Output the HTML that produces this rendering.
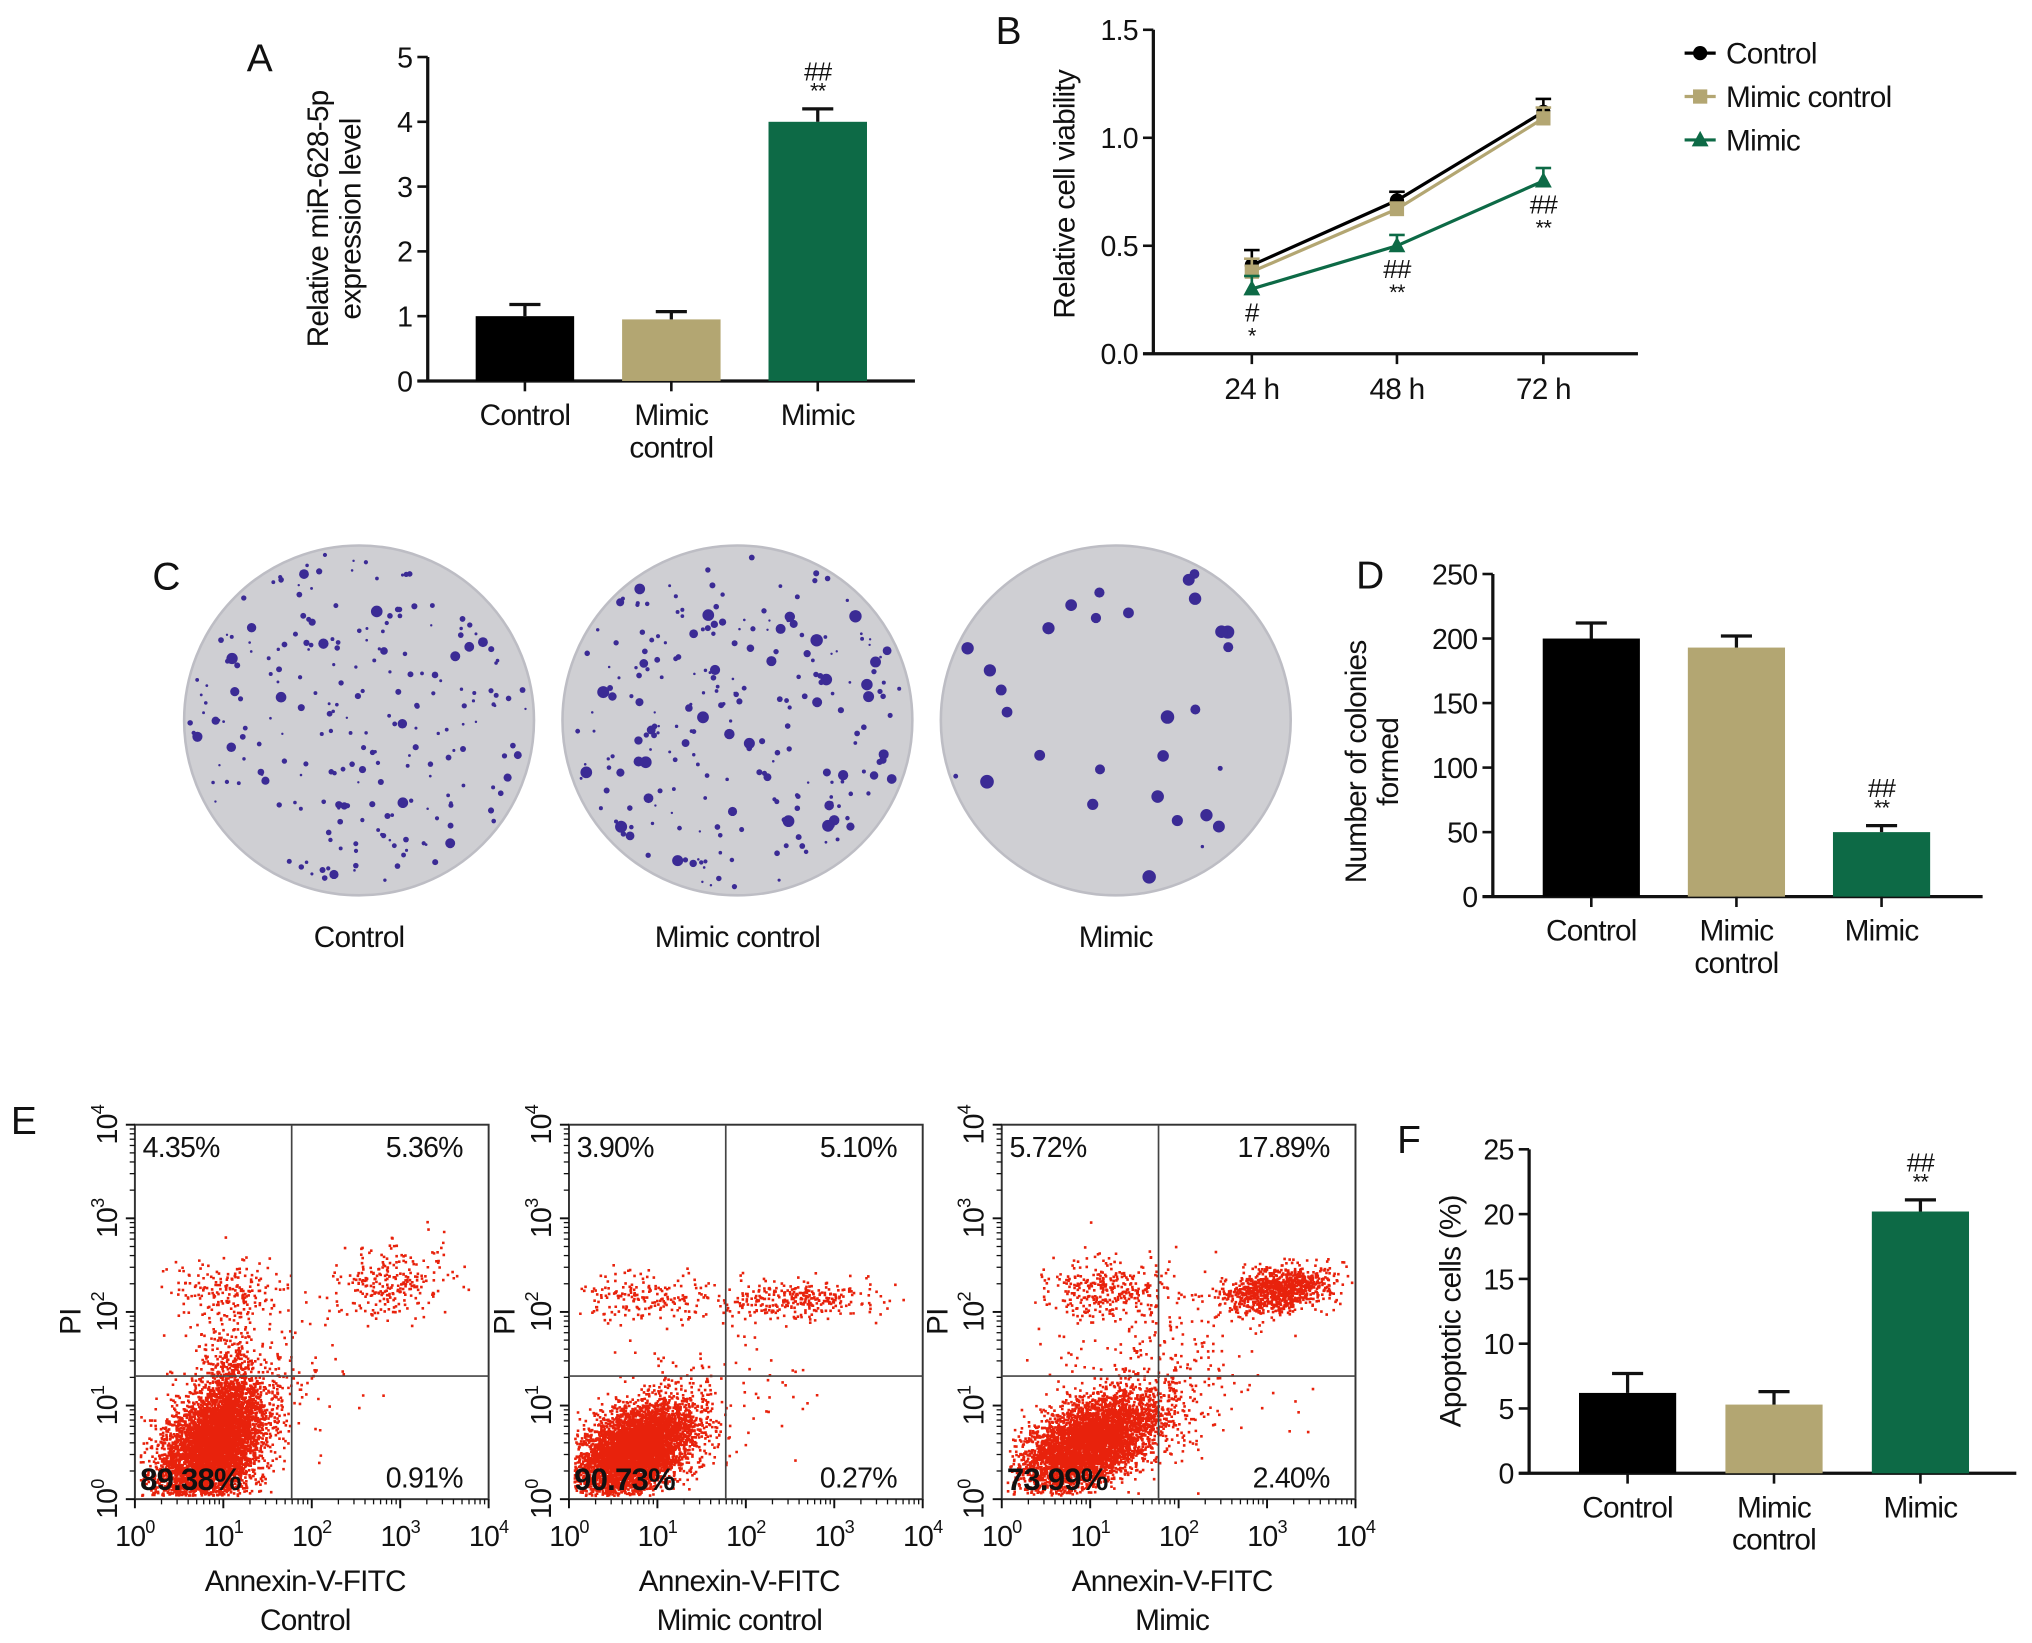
<!DOCTYPE html>
<html><head><meta charset="utf-8">
<style>
html,body{margin:0;padding:0;background:#fff;}
svg{display:block;font-family:"Liberation Sans",Arial,sans-serif;}
text{letter-spacing:-0.6px;}
</style></head>
<body>
<svg id="fig" width="2032" height="1643" viewBox="0 0 1568 1268" xmlns="http://www.w3.org/2000/svg">
</svg>
<script>
// ---- Data ----
const groups = ["Control", "Mimic control", "Mimic"];
const colors = ["#000000", "#b3a672", "#0d6a46"];
const aValues = [1.0, 0.95, 4.0];
const aErrors = [0.18, 0.12, 0.2];
const aTicks = [0, 1, 2, 3, 4, 5];
const bTimes = ["24 h", "48 h", "72 h"];
const bControl = [0.41, 0.71, 1.12];
const bMimicControl = [0.38, 0.67, 1.09];
const bMimic = [0.30, 0.50, 0.80];
const bErrControl = [0.07, 0.04, 0.06];
const bErrMimicControl = [0.06, 0.03, 0.05];
const bErrMimic = [0.06, 0.05, 0.06];
const bTicks = [0.0, 0.5, 1.0, 1.5];
const dValues = [200, 193, 50];
const dErrors = [12, 9, 5];
const dTicks = [0, 50, 100, 150, 200, 250];
const fValues = [6.2, 5.3, 20.2];
const fErrors = [1.5, 1.0, 0.9];
const fTicks = [0, 5, 10, 15, 20, 25];
const flowUL = ["4.35%", "3.90%", "5.72%"];
const flowUR = ["5.36%", "5.10%", "17.89%"];
const flowLL = ["89.38%", "90.73%", "73.99%"];
const flowLR = ["0.91%", "0.27%", "2.40%"];

const NS = "http://www.w3.org/2000/svg";
const svg = document.getElementById("fig");
function el(tag, attrs, parent, txt) {
  const e = document.createElementNS(NS, tag);
  for (const k in attrs) e.setAttribute(k, attrs[k]);
  if (txt !== undefined) e.textContent = txt;
  (parent || svg).appendChild(e);
  return e;
}
function group(name, parent) {
  const g = el("g", {}, parent);
  
  
  return g;
}
function txt(parent, x, y, s, size, anchor, name, extra) {
  const t = el("text", Object.assign({x: x, y: y, "font-size": size, "text-anchor": anchor || "middle", fill: "#111"}, extra || {}), parent, s);
  
  
  return t;
}
function line(parent, x1, y1, x2, y2, w, c) {
  return el("line", {x1: x1, y1: y1, x2: x2, y2: y2, stroke: c || "#111", "stroke-width": w || 2}, parent);
}

// ---- Bar chart helper ----
function barChart(cfg) {
  const g = group(cfg.name);
  const yS = v => cfg.y0 - (v - cfg.vmin) / (cfg.vmax - cfg.vmin) * (cfg.y0 - cfg.y1);
  line(g, cfg.x0, cfg.y1, cfg.x0, cfg.y0 + 1, 2.5);
  line(g, cfg.x0 - 8, cfg.y0, cfg.xEnd, cfg.y0, 2.5);
  cfg.ticks.forEach(t => {
    line(g, cfg.x0 - 8, yS(t), cfg.x0, yS(t), 2);
    txt(g, cfg.x0 - 12, yS(t) + 8, String(t), 22, "end", "y-tick-label");
  });
  cfg.values.forEach((v, i) => {
    const cx = cfg.centers[i];
    const b = el("rect", {x: cx - cfg.bw / 2, y: yS(v), width: cfg.bw, height: cfg.y0 - yS(v), fill: colors[i]}, g);
    
    
    const top = yS(v + cfg.errors[i]);
    line(g, cx, yS(v), cx, top, 2.5);
    line(g, cx - 12, top, cx + 12, top, 2.5);
    line(g, cx, cfg.y0, cx, cfg.y0 + 8, 2);
    const parts = groups[i].split(" ");
    txt(g, cx, cfg.y0 + 34, parts[0], 23, "middle", "x-category-label");
    if (parts[1]) txt(g, cx, cfg.y0 + 59, parts[1], 23, "middle", "x-category-label");
  });
  if (cfg.sig !== undefined) {
    const cx = cfg.centers[cfg.sig];
    const top = yS(cfg.values[cfg.sig] + cfg.errors[cfg.sig]);
    txt(g, cx, top - 8, "**", 17, "middle", "significance-stars");
    txt(g, cx, top - 22, "##", 20, "middle", "significance-hash");
  }
  const yl = cfg.ylabel;
  yl.lines.forEach((s, k) => {
    txt(g, 0, 0, s, 23, "middle", "y-axis-title", {transform: `translate(${yl.x + k * 25},${yl.y}) rotate(-90)`});
  });
  return g;
}

// Panel A
txt(svg, 200, 55, "A", 30, "middle", "panel-label-a");
barChart({name: "panel-a-chart", x0: 330, y0: 294, y1: 44, vmin: 0, vmax: 5, xEnd: 706,
  ticks: aTicks, values: aValues, errors: aErrors, centers: [405, 518, 631], bw: 76, sig: 2,
  ylabel: {x: 253, y: 169, lines: ["Relative miR-628-5p", "expression level"]}});

// Panel B
(function () {
  const g = group("panel-b-chart");
  txt(svg, 778, 34, "B", 30, "middle", "panel-label-b");
  const x0 = 890, y0 = 273, y1 = 23;
  const yS = v => y0 - v / 1.5 * (y0 - y1);
  const xs = [966, 1078, 1191];
  line(g, x0, y1, x0, y0 + 1, 2.5);
  line(g, x0 - 8, y0, 1264, y0, 2.5);
  bTicks.forEach(t => {
    line(g, x0 - 8, yS(t), x0, yS(t), 2);
    txt(g, x0 - 12, yS(t) + 8, t.toFixed(1), 22, "end", "y-tick-label");
  });
  bTimes.forEach((s, i) => {
    line(g, xs[i], y0, xs[i], y0 + 8, 2);
    txt(g, xs[i], y0 + 35, s, 23, "middle", "x-tick-label");
  });
  txt(g, 0, 0, "Relative cell viability", 23, "middle", "y-axis-title", {transform: `translate(829,150) rotate(-90)`});
  const series = [
    {name: "Control", vals: bControl, err: bErrControl, c: colors[0], m: "circle"},
    {name: "Mimic control", vals: bMimicControl, err: bErrMimicControl, c: colors[1], m: "square"},
    {name: "Mimic", vals: bMimic, err: bErrMimic, c: colors[2], m: "tri"}];
  function marker(p, m, x, y, c) {
    if (m === "circle") return el("circle", {cx: x, cy: y, r: 5.5, fill: c}, p);
    if (m === "square") return el("rect", {x: x - 5.5, y: y - 5.5, width: 11, height: 11, fill: c}, p);
    return el("polygon", {points: `${x},${y - 7} ${x - 6.5},${y + 5} ${x + 6.5},${y + 5}`, fill: c}, p);
  }
  series.forEach((s, k) => {
    const sg = group("series-" + s.name.toLowerCase().replace(' ', '-'), g);
    s.vals.forEach((v, i) => {
      const t = yS(v + s.err[i]);
      line(sg, xs[i], yS(v), xs[i], t, 2, s.c);
      line(sg, xs[i] - 6, t, xs[i] + 6, t, 2, s.c);
    });
    el("polyline", {points: s.vals.map((v, i) => xs[i] + "," + yS(v)).join(" "), fill: "none", stroke: s.c, "stroke-width": 2.5}, sg);
    s.vals.forEach((v, i) => {
      const m = marker(sg, s.m, xs[i], yS(v), s.c);
      
      
    });
    const ly = 41 + k * 33.5;
    const lg = group("legend-entry", g);
    line(lg, 1300, ly, 1324, ly, 2.5, s.c);
    marker(lg, s.m, 1312, ly, s.c);
    txt(lg, 1332, ly + 8, s.name, 23, "start", "legend-label");
  });
  const sigs = ["#", "##", "##"], stars = ["*", "**", "**"];
  xs.forEach((x, i) => {
    const base = yS(bMimic[i]);
    txt(g, x, base + 25, sigs[i], 20, "middle", "significance-hash");
    txt(g, x, base + 42, stars[i], 17, "middle", "significance-stars");
  });
})();

// Panel C: colony plates
(function () {
  txt(svg, 128, 455, "C", 30, "middle", "panel-label-c");
  let seed = 12345;
  const rnd = () => { seed = (seed * 1103515245 + 12345) % 2147483648; return seed / 2147483648; };
  const plates = [{cx: 277, n: 230, big: 0.12, bs: 2.5}, {cx: 569, n: 240, big: 0.2, bs: 2.8}, {cx: 861, n: 30, big: 0.8, bs: 3.5}];
  plates.forEach((p, i) => {
    const g = group("colony-plate-" + groups[i].toLowerCase().replace(' ', '-'));
    el("circle", {cx: p.cx, cy: 556, r: 135, fill: "#cfcfd3"}, g);
    el("circle", {cx: p.cx, cy: 556, r: 135, fill: "none", stroke: "#bdbdc4", "stroke-width": 2}, g);
    for (let k = 0; k < p.n; k++) {
      const a = rnd() * Math.PI * 2, r = Math.sqrt(rnd()) * 131;
      const rr = rnd() < p.big ? p.bs + rnd() * 2 : 0.9 + rnd() * 1.5;
      el("circle", {cx: p.cx + Math.cos(a) * r, cy: 556 + Math.sin(a) * r, r: rr, fill: "#3b2b95"}, g);
    }
    txt(g, p.cx, 731, groups[i], 23, "middle", "plate-label");
  });
})();

// Panel D
txt(svg, 1057, 454, "D", 30, "middle", "panel-label-d");
barChart({name: "panel-d-chart", x0: 1152, y0: 692, y1: 443, vmin: 0, vmax: 250, xEnd: 1530,
  ticks: dTicks, values: dValues, errors: dErrors, centers: [1228, 1340, 1452], bw: 75, sig: 2,
  ylabel: {x: 1054, y: 588, lines: ["Number of colonies", "formed"]}});

// Panel F
txt(svg, 1087, 890, "F", 30, "middle", "panel-label-f");
barChart({name: "panel-f-chart", x0: 1180, y0: 1137, y1: 887, vmin: 0, vmax: 25, xEnd: 1556,
  ticks: fTicks, values: fValues, errors: fErrors, centers: [1256, 1369, 1482], bw: 75, sig: 2,
  ylabel: {x: 1127, y: 1012, lines: ["Apoptotic cells (%)"]}});

// Panel E: flow cytometry
(function () {
  txt(svg, 18, 875, "E", 30, "middle", "panel-label-e");
  let seed = 987;
  const rnd = () => { seed = (seed * 1103515245 + 12345) % 2147483648; return seed / 2147483648; };
  const gauss = () => { let u = rnd() || 1e-6, v = rnd(); return Math.sqrt(-2 * Math.log(u)) * Math.cos(2 * Math.PI * v); };
  const lefts = [104, 439, 773];
  const W = 273, top = 868, bottom = 1157;
  const dx = W / 4, dy = (bottom - top) / 4;
  const quad = 121;
  // [mx, my, sx, sy, n, slope]
  const clusters = [
    [[0.85, 0.55, 0.3, 0.3, 5000, 0.5], [1.05, 1.0, 0.15, 0.4, 700, 0], [1.1, 2.23, 0.35, 0.15, 180, 0], [2.9, 2.35, 0.3, 0.2, 260, 0.2], [1.4, 1.3, 0.5, 0.5, 160, 0]],
    [[0.75, 0.55, 0.32, 0.22, 5000, 0.35], [0.8, 2.15, 0.4, 0.12, 200, 0], [2.5, 2.15, 0.45, 0.1, 320, 0], [1.5, 1.1, 0.6, 0.5, 100, 0]],
    [[1.0, 0.62, 0.38, 0.22, 4500, 0.35], [1.2, 2.25, 0.35, 0.15, 320, 0], [3.1, 2.25, 0.3, 0.11, 1000, 0.1], [1.8, 1.4, 0.6, 0.5, 300, 0]]];
  lefts.forEach((L, p) => {
    const g = group("flow-plot-" + groups[p].toLowerCase().replace(' ', '-'));
    const pts = group("scatter-points", g);
    let d = "";
    clusters[p].forEach(c => {
      for (let k = 0; k < c[4]; k++) {
        const gx = gauss();
        const lx = c[0] + gx * c[2], ly = c[1] + gauss() * c[3] + gx * c[2] * c[5];
        if (lx < 0.05 || lx > 3.95 || ly < 0.05 || ly > 3.95) continue;
        const x = L + lx * dx, y = bottom - ly * dy;
        d += `M${x.toFixed(1)} ${y.toFixed(1)}h2v2h-2z`;
      }
    });
    el("path", {d: d, fill: "#e8220c"}, pts);
    el("rect", {x: L, y: top, width: W, height: bottom - top, fill: "none", stroke: "#333", "stroke-width": 1.5}, g);
    line(g, L + quad, top, L + quad, bottom, 1.3, "#444");
    line(g, L, 1062, L + W, 1062, 1.3, "#444");
    for (let k = 0; k <= 4; k++) {
      line(g, L + k * dx, bottom, L + k * dx, bottom + 7, 1.5);
      line(g, L - 7, bottom - k * dy, L, bottom - k * dy, 1.5);
      const tx = txt(g, L + k * dx, bottom + 36, "10", 22, "middle", "x-tick-label");
      el("tspan", {dy: -10, "font-size": 14}, tx, String(k));
      const ty = txt(g, 0, 0, "10", 22, "middle", "y-tick-label", {transform: `translate(${L - 14},${bottom - k * dy}) rotate(-90)`});
      el("tspan", {dy: -10, "font-size": 14}, ty, String(k));
      for (let m = 2; m < 10 && k < 4; m++) {
        const o = Math.log10(m);
        line(g, L + (k + o) * dx, bottom, L + (k + o) * dx, bottom + 4, 1);
        line(g, L - 4, bottom - (k + o) * dy, L, bottom - (k + o) * dy, 1);
      }
    }
    txt(g, 0, 0, "PI", 23, "middle", "y-axis-title", {transform: `translate(${L - 42},1020) rotate(-90)`});
    txt(g, L + W / 2 - 5, 1228, "Annexin-V-FITC", 23, "middle", "x-axis-title");
    txt(g, L + W / 2 - 5, 1258, groups[p], 23, "middle", "sample-name");
    txt(g, L + 6, 893, flowUL[p], 22, "start", "quadrant-upper-left");
    txt(g, L + W - 20, 893, flowUR[p], 22, "end", "quadrant-upper-right");
    txt(g, L + 4, 1150, flowLL[p], 24, "start", "quadrant-lower-left", {"font-weight": "bold"});
    txt(g, L + W - 20, 1148, flowLR[p], 22, "end", "quadrant-lower-right");
  });
})();
</script>
</body></html>
